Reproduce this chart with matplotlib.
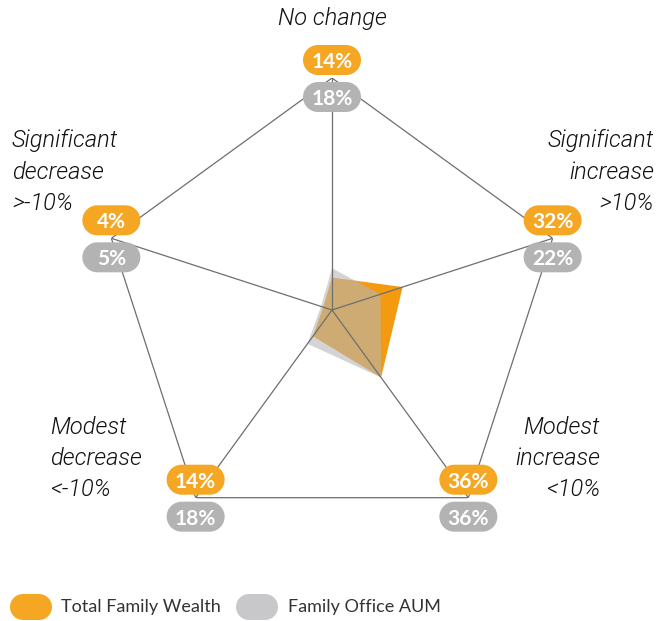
import numpy as np
import matplotlib
matplotlib.use("Agg")
import matplotlib.pyplot as plt
from matplotlib.patches import Polygon
from matplotlib.transforms import IdentityTransform

# data
categories = ["No change", "Significant\nincrease\n>10%", "Modest\nincrease\n<10%",
              "Modest\ndecrease\n<-10%", "Significant\ndecrease\n>-10%"]
family_wealth = [14, 32, 36, 14, 4]
office_aum = [18, 22, 36, 18, 5]
series_names = ["Total Family Wealth", "Family Office AUM"]

orange = "#F5A623"
orange_fill = "#F39A10"
grey_pill = "#B3B3B3"
grey_legend = "#C8C8CA"
line_col = "#6E6E6E"

W, H = 670, 621
fig = plt.figure(figsize=(W / 100, H / 100), dpi=100)

# polar axes centred at (332, 310) px with radius 232 px
cx, cy, R = 332, 310, 232
ax = fig.add_axes([(cx - R) / W, (H - cy - R) / H, 2 * R / W, 2 * R / H], projection="polar")
ax.set_theta_zero_location("N")
ax.set_theta_direction(-1)
ax.set_ylim(0, 100)
ax.axis("off")

n = len(categories)
angles = np.arange(n) * 2 * np.pi / n
closed = np.append(angles, angles[0])

# spokes and outer pentagon
for a in angles:
    ax.plot([a, a], [0, 100], color=line_col, lw=0.9, zorder=3)
ax.plot(closed, [100] * (n + 1), color=line_col, lw=0.9, zorder=3)

# series polygons
ax.fill(closed, family_wealth + family_wealth[:1], color=orange_fill, lw=0, zorder=1)
ax.fill(closed, office_aum + office_aum[:1], color="#B8B8B8", alpha=0.6, lw=0, zorder=2)

fig.canvas.draw()


def pill(x, y, w, h, color, text, fs=15):
    # stadium shaped box, x, y in display pixels
    r = h / 2
    t1 = np.linspace(-np.pi / 2, np.pi / 2, 30)
    t2 = np.linspace(np.pi / 2, 3 * np.pi / 2, 30)
    xr, xl = x + w / 2 - r, x - w / 2 + r
    pts = np.vstack([np.column_stack([xr + r * np.cos(t1), y + r * np.sin(t1)]),
                     np.column_stack([xl + r * np.cos(t2), y + r * np.sin(t2)])])
    p = Polygon(pts, closed=True, transform=IdentityTransform(), facecolor=color,
                edgecolor="none")
    p.set_figure(fig)
    fig.patches.append(p)
    if text:
        fig.text(x / W, y / H, text, ha="center", va="center_baseline", color="white",
                 fontsize=fs, fontweight="bold", family="Lato")


for i, a in enumerate(angles):
    px, py = ax.transData.transform((a, 100))
    pill(px, py + 18, 58, 30, orange, "%d%%" % family_wealth[i])
    pill(px, py - 19, 58, 30, grey_pill, "%d%%" % office_aum[i])

# category labels, one text per line (y = first line centre, from top)
lab = dict(fontsize=17, style="italic", fontweight=300, family="Roboto",
           color="#111111", va="center")
label_pos = [(332, 18, "center"), (654, 141, "right"), (600, 427, "right"),
             (50, 427, "left"), (12, 141, "left")]
for cat, (lx, ly0, ha) in zip(categories, label_pos):
    for k, line in enumerate(cat.split("\n")):
        fig.text(lx / W, 1 - (ly0 + 31.5 * k) / H, line, ha=ha, **lab)

# legend
ly = H - 607
pill(31, ly, 42, 26, orange, "")
fig.text(61 / W, ly / H, series_names[0], ha="left", va="center", fontsize=13,
         family="Lato", color="#333333")
pill(257, ly, 42, 26, grey_legend, "")
fig.text(288 / W, ly / H, series_names[1], ha="left", va="center", fontsize=13,
         family="Lato", color="#333333")

fig.savefig("out.png", dpi=100)
